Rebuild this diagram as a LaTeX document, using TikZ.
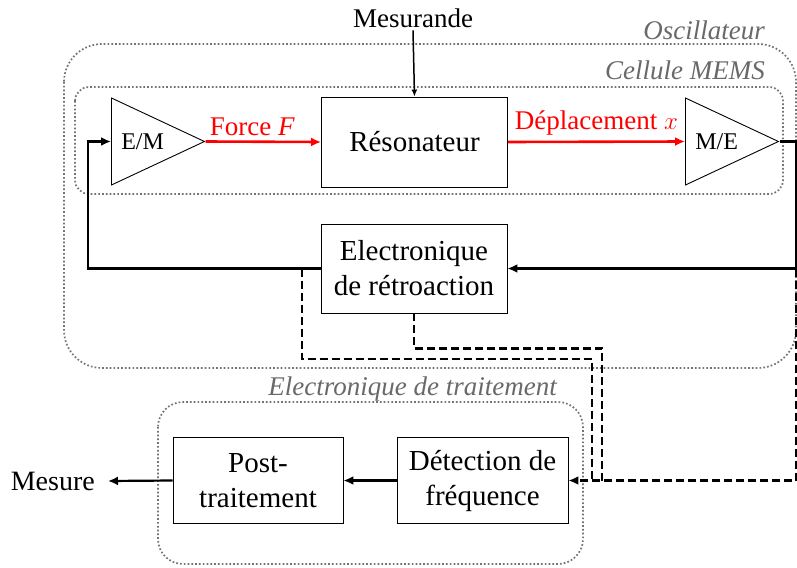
\documentclass[tikz,border=0pt]{standalone}
\usepackage{fontspec}
\setmainfont{Liberation Serif}
\usetikzlibrary{arrows.meta,positioning,shapes.geometric}
\definecolor{grpgrau}{RGB}{105,105,105}
\definecolor{dotgrau}{RGB}{115,115,115}
\definecolor{sigrot}{RGB}{255,0,0}

\begin{document}
\begin{tikzpicture}[
        x=1pt, y=-1pt,
        >={Latex[length=10pt,width=9pt]},
        block/.style={draw, line width=0.9pt, align=center, inner sep=2pt, font=\fontsize{29}{35}\selectfont},
        conv/.style={draw, line width=0.9pt, isosceles triangle, isosceles triangle stretches, minimum width=87pt, minimum height=93pt, inner sep=0pt, font=\fontsize{24}{28}\selectfont},
        grpbox/.style={draw=dotgrau, line width=1.7pt, dash pattern=on 1.7pt off 2.1pt},
        grplabel/.style={text=grpgrau, inner sep=0pt, font=\fontsize{27}{30}\selectfont\itshape},
        plain/.style={inner sep=2pt, font=\fontsize{27}{30}\selectfont},
        conn/.style={line width=2.2pt},
        sig/.style={line width=2.6pt, sigrot},
        dashconn/.style={line width=2.2pt, dash pattern=on 8pt off 4pt}
    ]
        \useasboundingbox (0,0) rectangle (797,567);
        % groups
        \draw[grpbox, rounded corners=38pt] (64,44) rectangle (796,368);
        \draw[grpbox, rounded corners=14pt] (75,87) rectangle (783,194);
        \draw[grpbox, rounded corners=25pt] (158,402) rectangle (583,564);
        \node[grplabel, anchor=base east] (lbosc) at (765,40) {Oscillateur};
        \node[grplabel, anchor=base east] (lbmems) at (765,80) {Cellule MEMS};
        \node[grplabel, anchor=base east] (lbtrait) at (557,395) {Electronique de traitement};
        % blocks
        \node[conv, anchor=lower side] (em) at (111,141.5) {E/M};
        \node[conv, anchor=lower side] (me) at (685,141.5) {M/E};
        \node[block, minimum width=186pt, minimum height=90pt] (reso) at (414.5,142) {Résonateur};
        \node[block, minimum width=186pt, minimum height=89pt] (retro) at (414,268.5) {Electronique\\de rétroaction};
        \node[block, minimum width=170pt, minimum height=86pt] (post) at (258,480.5) {Post-\\traitement};
        \node[block, minimum width=171pt, minimum height=86pt] (detect) at (482.5,480.5) {Détection de\\fréquence};
        \node[plain, anchor=base] (mesurande) at (413,28) {Mesurande};
        \node[plain, anchor=east, inner xsep=13pt, font=\fontsize{28}{30}\selectfont] (mesure) at (108,481) {Mesure};
        \coordinate (rcorner) at (796,268.5);
        \coordinate (lcorner) at (88,268.5);
        \coordinate (tapL) at (302,268.5);
        \coordinate (dA) at (592,481);
        \coordinate (dB) at (602,481);
        % signals
        \draw[->, line width=1.5pt, >={Latex[length=7pt,width=6pt]}] (mesurande.south) -- (reso.north);
        \draw[sig, ->] (em.apex) -- node[above=3pt, xshift=-11pt, plain, text=sigrot] (lbforce) {Force \textit{F}} (reso.west);
        \draw[sig, ->] (reso.east) -- node[above=3pt, plain, text=sigrot] (lbdepl) {Déplacement $x$} (me.lower side);
        \draw[conn, ->] (me.apex) -| (rcorner) -- (retro.east);
        \draw[conn, ->] (retro.west) -- (lcorner) |- (em.lower side);
        \draw[dashconn, ->] (rcorner) |- (detect.east);
        \draw[dashconn] (tapL) -- ++(0,90.5) -| (dA);
        \draw[dashconn] (retro.south) -- ++(0,35) -| (dB);
        \draw[conn, ->] (detect.west) -- (post.east);
        \draw[conn, ->] (post.west) -- (mesure.east);
    \end{tikzpicture}
\end{document}
